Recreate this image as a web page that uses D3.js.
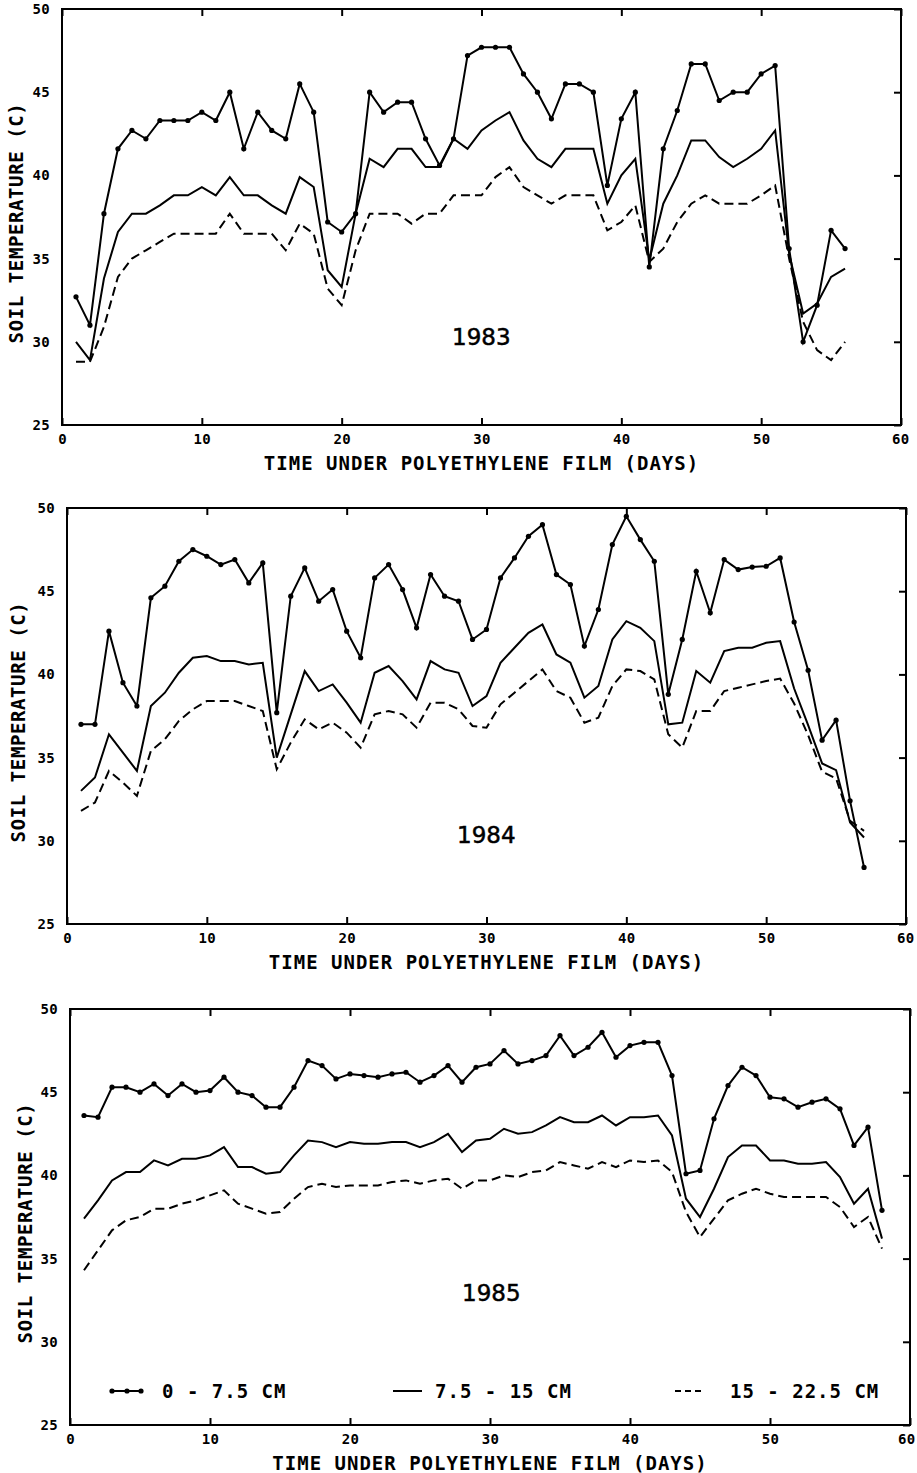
<!DOCTYPE html>
<html>
<head>
<meta charset="utf-8">
<script src="https://cdn.jsdelivr.net/npm/d3@7"></script>
<style>
  html, body { margin: 0; padding: 0; background: #fff; }
  svg { display: block; }
  .lbl { font-family: "DejaVu Sans Mono", monospace; font-weight: bold; fill: #000; }
</style>
</head>
<body>
<svg id="chart" width="917" height="1473"></svg>
<script>
// ---------------- DATA ----------------
const years = ["1983", "1984", "1985"];
const depthLabels = ["0 - 7.5 CM", "7.5 - 15 CM", "15 - 22.5 CM"];
const xTickValues = [0, 10, 20, 30, 40, 50, 60];
const yTickValues = [25, 30, 35, 40, 45, 50];
const xTitle = "TIME UNDER POLYETHYLENE FILM (DAYS)";
const yTitles = ["SOIL TEMPERATURE (C)", "SOIL TEMPERATURE  (C)", "SOIL TEMPERATURE (C)"];

// 1983, days 1..56
const top1983 = [32.7,31.0,37.7,41.6,42.7,42.2,43.3,43.3,43.3,43.8,
  43.3,45.0,41.6,43.8,42.7,42.2,45.5,43.8,37.2,36.6,
  37.7,45.0,43.8,44.4,44.4,42.2,40.6,42.2,47.2,47.7,
  47.7,47.7,46.1,45.0,43.4,45.5,45.5,45.0,39.4,43.4,
  45.0,34.5,41.6,43.9,46.7,46.7,44.5,45.0,45.0,46.1,
  46.6,35.6,30.0,32.2,36.7,35.6];
const mid1983 = [30.0,28.9,33.8,36.6,37.7,37.7,38.2,38.8,38.8,39.3,
  38.8,39.9,38.8,38.8,38.2,37.7,39.9,39.3,34.3,33.3,
  37.7,41.0,40.5,41.6,41.6,40.5,40.5,42.2,41.6,42.7,
  43.3,43.8,42.1,41.0,40.5,41.6,41.6,41.6,38.3,40.0,
  41.0,34.9,38.3,40.0,42.1,42.1,41.1,40.5,41.0,41.6,
  42.7,35.3,31.7,32.3,33.9,34.4];
const bot1983 = [28.8,28.8,30.9,33.9,35.0,35.5,36.0,36.5,36.5,36.5,
  36.5,37.7,36.5,36.5,36.5,35.5,37.1,36.5,33.2,32.2,
  35.5,37.7,37.7,37.7,37.1,37.7,37.7,38.8,38.8,38.8,
  39.9,40.5,39.3,38.8,38.3,38.8,38.8,38.8,36.7,37.2,
  38.2,34.8,35.6,37.2,38.3,38.8,38.3,38.3,38.3,38.8,
  39.4,35.0,31.2,29.5,28.9,30.0];

// 1984, days 1..57
const top1984 = [37.0,37.0,42.6,39.5,38.1,44.6,45.3,46.8,47.5,47.1,
  46.6,46.9,45.5,46.7,37.7,44.7,46.4,44.4,45.1,42.6,
  41.0,45.8,46.6,45.1,42.8,46.0,44.7,44.4,42.1,42.7,
  45.8,47.0,48.3,49.0,46.0,45.4,41.7,43.9,47.8,49.5,
  48.1,46.8,38.8,42.1,46.2,43.7,46.9,46.3,46.45,46.5,
  47.0,43.15,40.25,36.05,37.25,32.4,28.4];
const mid1984 = [33.0,33.8,36.4,35.3,34.2,38.1,38.9,40.1,41.0,41.1,
  40.8,40.8,40.6,40.7,35.0,37.6,40.2,39.0,39.4,38.3,
  37.1,40.1,40.5,39.6,38.5,40.8,40.3,40.1,38.1,38.7,
  40.7,41.6,42.5,43.0,41.2,40.7,38.6,39.3,42.1,43.2,
  42.8,42.0,37.0,37.1,40.2,39.5,41.4,41.6,41.6,41.9,
  42.0,39.15,36.95,34.65,34.25,31.1,30.2];
const bot1984 = [31.8,32.3,34.2,33.5,32.7,35.4,36.1,37.2,37.9,38.4,
  38.4,38.4,38.1,37.8,34.3,35.9,37.3,36.7,37.1,36.5,
  35.6,37.6,37.8,37.6,36.8,38.3,38.3,37.9,36.9,36.8,
  38.2,38.9,39.6,40.3,39.0,38.6,37.1,37.4,39.3,40.3,
  40.2,39.7,36.4,35.6,37.8,37.8,39.0,39.2,39.4,39.6,
  39.75,38.25,36.35,34.15,33.75,31.2,30.6];

// 1985, days 1..58
const top1985 = [43.6,43.5,45.3,45.3,45.0,45.5,44.8,45.5,45.0,45.1,
  45.9,45.0,44.8,44.1,44.1,45.3,46.9,46.6,45.8,46.1,
  46.0,45.9,46.1,46.2,45.6,46.0,46.6,45.6,46.5,46.7,
  47.5,46.7,46.9,47.2,48.4,47.2,47.7,48.6,47.1,47.8,
  48.0,48.0,46.0,40.1,40.3,43.4,45.4,46.5,46.0,44.7,
  44.6,44.1,44.4,44.6,44.0,41.8,42.9,37.9];
const mid1985 = [37.4,38.5,39.7,40.2,40.2,40.9,40.6,41.0,41.0,41.2,
  41.7,40.5,40.5,40.1,40.2,41.2,42.1,42.0,41.7,42.0,
  41.9,41.9,42.0,42.0,41.7,42.0,42.5,41.4,42.1,42.2,
  42.8,42.5,42.6,43.0,43.5,43.2,43.2,43.6,43.0,43.5,
  43.5,43.6,42.4,38.6,37.5,39.2,41.1,41.8,41.8,40.9,
  40.9,40.7,40.7,40.8,39.9,38.3,39.2,36.2];
const bot1985 = [34.3,35.5,36.7,37.3,37.5,38.0,38.0,38.3,38.5,38.8,
  39.1,38.3,38.0,37.7,37.8,38.6,39.3,39.5,39.3,39.4,
  39.4,39.4,39.6,39.7,39.5,39.7,39.8,39.2,39.7,39.7,
  40.0,39.9,40.2,40.3,40.8,40.6,40.4,40.8,40.5,40.9,
  40.8,40.9,40.2,37.8,36.3,37.4,38.5,38.9,39.2,38.9,
  38.7,38.7,38.7,38.7,38.1,36.9,37.5,35.6];

const seriesByYear = [
  [top1983, mid1983, bot1983],
  [top1984, mid1984, bot1984],
  [top1985, mid1985, bot1985]
];

// ---------------- LAYOUT ----------------
const panels = [
  { x0: 62, x1: 901, y0: 9,    y1: 425,  yTitleX: 23, yearX: 452, yearY: 345 },
  { x0: 67, x1: 906, y0: 508,  y1: 924,  yTitleX: 25, yearX: 457, yearY: 843 },
  { x0: 70, x1: 910, y0: 1009, y1: 1425, yTitleX: 32, yearX: 462, yearY: 1301 }
];

const svg = d3.select("#chart");
const LW = 2;

panels.forEach((p, i) => {
  const x = d3.scaleLinear().domain([0, 60]).range([p.x0, p.x1]);
  const y = d3.scaleLinear().domain([25, 50]).range([p.y1, p.y0]);
  const g = svg.append("g");

  // frame
  g.append("rect")
    .attr("x", p.x0).attr("y", p.y0)
    .attr("width", p.x1 - p.x0).attr("height", p.y1 - p.y0)
    .attr("fill", "none").attr("stroke", "#000").attr("stroke-width", LW);

  const bx = g.append("g").attr("transform", `translate(0,${p.y1})`)
    .call(d3.axisBottom(x).tickValues(xTickValues).tickSize(-7).tickPadding(9).tickFormat(d3.format("d")));
  const tx = g.append("g").attr("transform", `translate(0,${p.y0})`)
    .call(d3.axisTop(x).tickValues(xTickValues).tickSize(-7).tickFormat(""));
  const ry = g.append("g").attr("transform", `translate(${p.x1},0)`)
    .call(d3.axisRight(y).tickValues(yTickValues).tickSize(-7).tickFormat(""));
  const ly = g.append("g").attr("transform", `translate(${p.x0},0)`)
    .call(d3.axisLeft(y).tickValues(yTickValues).tickSize(0).tickPadding(12).tickFormat(d3.format("d")));

  [bx, tx, ry, ly].forEach(a => {
    a.select(".domain").remove();
    a.selectAll(".tick line").attr("stroke", "#000").attr("stroke-width", 2);
    a.selectAll(".tick text")
      .attr("class", "lbl")
      .style("font-family", '"DejaVu Sans Mono", monospace')
      .style("font-weight", "bold")
      .style("font-size", "14px")
      .style("letter-spacing", "0.3px")
      .attr("fill", "#000");
  });
  // keep the last x label ("60") inside the page
  bx.selectAll(".tick text").filter(d => d === 60)
    .attr("text-anchor", "end").attr("x", Math.min(8, 915 - p.x1));

  // x title
  g.append("text").attr("class", "lbl")
    .attr("x", (p.x0 + p.x1) / 2).attr("y", p.y1 + 45)
    .attr("text-anchor", "middle")
    .style("font-size", "19px").style("letter-spacing", "1px")
    .text(xTitle);

  // y title
  const cy = (p.y0 + p.y1) / 2 + 6;
  g.append("text").attr("class", "lbl")
    .attr("transform", `translate(${p.yTitleX},${cy}) rotate(-90)`)
    .attr("text-anchor", "middle")
    .style("font-size", "19px").style("letter-spacing", "0.6px")
    .text(yTitles[i]);

  // year label
  g.append("text")
    .attr("x", p.yearX).attr("y", p.yearY)
    .style("font-family", '"DejaVu Sans", sans-serif')
    .style("font-size", "23px")
    .attr("fill", "#000").attr("stroke", "#000").attr("stroke-width", 0.5)
    .text(years[i]);

  // series
  const [sTop, sMid, sBot] = seriesByYear[i];
  const line = d3.line().x((d, k) => x(k + 1)).y(d => y(d));

  g.append("path").datum(sBot).attr("d", line)
    .attr("fill", "none").attr("stroke", "#000").attr("stroke-width", LW)
    .attr("stroke-dasharray", "9,5");
  g.append("path").datum(sMid).attr("d", line)
    .attr("fill", "none").attr("stroke", "#000").attr("stroke-width", LW);
  g.append("path").datum(sTop).attr("d", line)
    .attr("fill", "none").attr("stroke", "#000").attr("stroke-width", LW);
  g.selectAll("circle.pt").data(sTop).enter().append("circle")
    .attr("class", "pt")
    .attr("cx", (d, k) => x(k + 1)).attr("cy", d => y(d))
    .attr("r", 2.6).attr("fill", "#000");

  // legend (bottom panel only)
  if (i === 2) {
    const ly0 = 1391;
    const lg = g.append("g");
    lg.append("line").attr("x1", 110).attr("x2", 143).attr("y1", ly0).attr("y2", ly0)
      .attr("stroke", "#000").attr("stroke-width", LW);
    lg.selectAll("circle").data([112, 127, 141]).enter().append("circle")
      .attr("cx", d => d).attr("cy", ly0).attr("r", 2.6).attr("fill", "#000");
    lg.append("text").attr("class", "lbl").attr("x", 162).attr("y", ly0 + 7)
      .style("font-size", "19px").style("letter-spacing", "1px").text(depthLabels[0]);

    lg.append("line").attr("x1", 393).attr("x2", 422).attr("y1", ly0).attr("y2", ly0)
      .attr("stroke", "#000").attr("stroke-width", LW);
    lg.append("text").attr("class", "lbl").attr("x", 435).attr("y", ly0 + 7)
      .style("font-size", "19px").style("letter-spacing", "1px").text(depthLabels[1]);

    lg.append("line").attr("x1", 675).attr("x2", 701).attr("y1", ly0).attr("y2", ly0)
      .attr("stroke", "#000").attr("stroke-width", LW).attr("stroke-dasharray", "6,4");
    lg.append("text").attr("class", "lbl").attr("x", 730).attr("y", ly0 + 7)
      .style("font-size", "19px").style("letter-spacing", "1px").text(depthLabels[2]);
  }
});
</script>
</body>
</html>
